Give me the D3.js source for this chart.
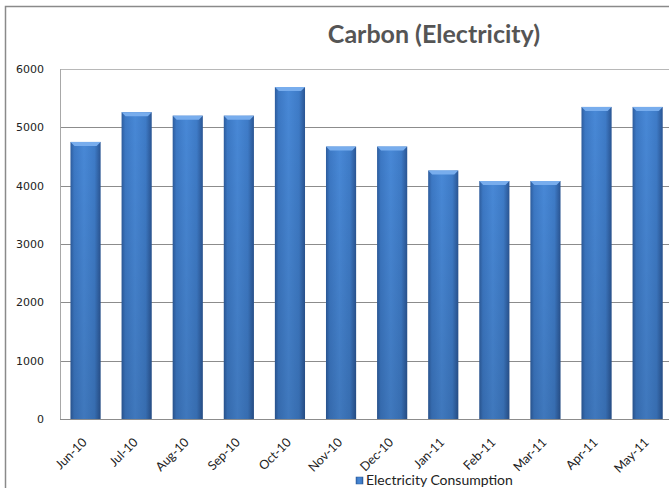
<!DOCTYPE html>
<html>
<head>
<meta charset="utf-8">
<script src="https://cdn.jsdelivr.net/npm/d3@7"></script>
<style>
  body { margin: 0; background: #fff; }
  svg { display: block; }
</style>
</head>
<body>
<div id="chart"></div>
<script>
// chart data
const months = ["Jun-10", "Jul-10", "Aug-10", "Sep-10", "Oct-10", "Nov-10",
                "Dec-10", "Jan-11", "Feb-11", "Mar-11", "Apr-11", "May-11"];
const consumption = [4750, 5260, 5200, 5200, 5690, 4670, 4670, 4260, 4080, 4080, 5350, 5350];
const yTicks = [0, 1000, 2000, 3000, 4000, 5000, 6000];
const seriesName = "Electricity Consumption";
const title = "Carbon (Electricity)";

let width = 669, height = 488;
const plot = {left: 60, top: 69, bottom: 419, step: 51.1};

let svg = d3.select("#chart")
    .append("svg")
    .attr("width", width)
    .attr("height", height);

let defs = svg.append("defs");

// horizontal shading for the bevelled bars
let grad = defs.append("linearGradient").attr("id", "barGrad")
    .attr("x1", "0%").attr("x2", "100%").attr("y1", "0%").attr("y2", "0%");
[["0%", "#2d5c9d"], ["12%", "#3c78c4"], ["45%", "#4888d6"], ["80%", "#3e7bc7"], ["100%", "#2a5593"]]
    .forEach(s => grad.append("stop").attr("offset", s[0]).attr("stop-color", s[1]));

// darken towards the bottom
let vgrad = defs.append("linearGradient").attr("id", "barShade")
    .attr("x1", "0%").attr("x2", "0%").attr("y1", "0%").attr("y2", "100%");
vgrad.append("stop").attr("offset", "0%").attr("stop-color", "#000").attr("stop-opacity", 0);
vgrad.append("stop").attr("offset", "100%").attr("stop-color", "#000").attr("stop-opacity", 0.12);

// outer chart border (cropped at right / bottom)
svg.append("path")
    .attr("d", "M5.5,490 L5.5,6.5 L680,6.5")
    .attr("fill", "none")
    .attr("stroke", "#8a8a8a")
    .attr("stroke-width", 1.5);

let x = d3.scaleBand()
    .domain(months)
    .range([plot.left, plot.left + plot.step * months.length])
    .paddingInner(0.41)
    .paddingOuter(0.205);

let y = d3.scaleLinear()
    .domain([0, 6000])
    .range([plot.bottom, plot.top]);

// gridlines
svg.append("g")
    .selectAll("line")
    .data(yTicks.filter(d => d > 0))
    .enter()
    .append("line")
    .attr("x1", plot.left)
    .attr("x2", width)
    .attr("y1", d => Math.round(y(d)) + 0.5)
    .attr("y2", d => Math.round(y(d)) + 0.5)
    .attr("stroke", d => d === 6000 ? "#b8b8b8" : "#8c8c8c")
    .attr("stroke-width", 1);

// plot area left edge and baseline
svg.append("line")
    .attr("x1", plot.left + 0.5).attr("x2", plot.left + 0.5)
    .attr("y1", plot.top).attr("y2", plot.bottom)
    .attr("stroke", "#a8a8a8");
svg.append("line")
    .attr("x1", plot.left).attr("x2", width)
    .attr("y1", plot.bottom + 0.5).attr("y2", plot.bottom + 0.5)
    .attr("stroke", "#8c8c8c");

// y tick labels
svg.append("g")
    .selectAll("text")
    .data(yTicks)
    .enter()
    .append("text")
    .attr("x", 44)
    .attr("y", d => y(d) + 4)
    .attr("text-anchor", "end")
    .style("font-family", "DejaVu Sans, Verdana, sans-serif")
    .style("font-size", "11px")
    .style("fill", "#222")
    .text(d => d);

// bars
let bars = svg.append("g").selectAll("g").data(months.map((m, i) => ({m: m, v: consumption[i]})))
    .enter()
    .append("g");

bars.append("rect")
    .attr("x", d => x(d.m))
    .attr("y", d => y(d.v))
    .attr("width", x.bandwidth())
    .attr("height", d => plot.bottom - y(d.v))
    .attr("fill", "url(#barGrad)");

bars.append("rect")
    .attr("x", d => x(d.m))
    .attr("y", d => y(d.v))
    .attr("width", x.bandwidth())
    .attr("height", d => plot.bottom - y(d.v))
    .attr("fill", "url(#barShade)");

// top bevel
bars.append("path")
    .attr("d", d => {
        let x0 = x(d.m), x1 = x0 + x.bandwidth(), t = y(d.v);
        return `M${x0},${t} L${x1},${t} L${x1 - 4},${t + 4} L${x0 + 4},${t + 4} Z`;
    })
    .attr("fill", "#78aded");

// x tick labels, rotated
svg.append("g")
    .selectAll("text")
    .data(months)
    .enter()
    .append("text")
    .attr("transform", d => `translate(${x(d) + x.bandwidth() / 2 + 2}, ${plot.bottom + 24}) rotate(-45)`)
    .attr("text-anchor", "end")
    .style("font-family", "Lato, sans-serif")
    .style("font-size", "12.5px")
    .style("fill", "#222")
    .text(d => d);

// title
svg.append("text")
    .attr("x", 434)
    .attr("y", 43)
    .attr("text-anchor", "middle")
    .style("font-family", "Lato, sans-serif")
    .style("font-weight", "bold")
    .style("font-size", "25px")
    .style("fill", "#555")
    .text(title);

// legend
let legend = svg.append("g").attr("transform", "translate(356, 477)");
legend.append("rect")
    .attr("x", 0).attr("y", 0)
    .attr("width", 7).attr("height", 7)
    .attr("fill", "url(#barGrad)")
    .attr("stroke", "#2b5897")
    .attr("stroke-width", 0.5);
legend.append("text")
    .attr("x", 10)
    .attr("y", 8)
    .style("font-family", "Lato, sans-serif")
    .style("font-size", "14px")
    .style("fill", "#222")
    .text(seriesName);
</script>
</body>
</html>
